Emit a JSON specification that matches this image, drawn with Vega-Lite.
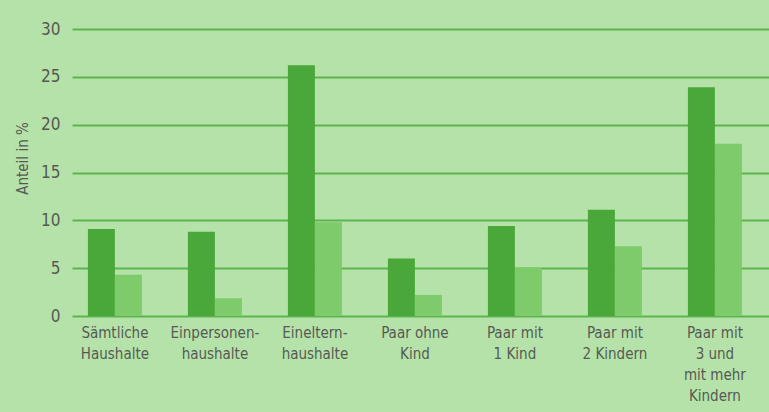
{
  "$schema": "https://vega.github.io/schema/vega-lite/v6.json",
  "autosize": {"type": "none"},
  "padding": {"left": 72, "top": 29, "right": 0, "bottom": 96},
  "width": 697,
  "height": 287,
  "background": "#b5e2a8",
  "config": {
    "view": {"stroke": null, "fill": "#b5e2a8"},
    "font": "DejaVu Sans Condensed, Lato, sans-serif"
  },
  "data": {
    "values": [
      {"typ": "Sämtliche|Haushalte", "serie": "A", "wert": 9.1},
      {"typ": "Sämtliche|Haushalte", "serie": "B", "wert": 4.3},
      {"typ": "Einpersonen-|haushalte", "serie": "A", "wert": 8.8},
      {"typ": "Einpersonen-|haushalte", "serie": "B", "wert": 1.85},
      {"typ": "Eineltern-|haushalte", "serie": "A", "wert": 26.2},
      {"typ": "Eineltern-|haushalte", "serie": "B", "wert": 9.8},
      {"typ": "Paar ohne|Kind", "serie": "A", "wert": 6.0},
      {"typ": "Paar ohne|Kind", "serie": "B", "wert": 2.2},
      {"typ": "Paar mit|1 Kind", "serie": "A", "wert": 9.4},
      {"typ": "Paar mit|1 Kind", "serie": "B", "wert": 5.05},
      {"typ": "Paar mit|2 Kindern", "serie": "A", "wert": 11.1},
      {"typ": "Paar mit|2 Kindern", "serie": "B", "wert": 7.3},
      {"typ": "Paar mit|3 und|mit mehr|Kindern", "serie": "A", "wert": 23.9},
      {"typ": "Paar mit|3 und|mit mehr|Kindern", "serie": "B", "wert": 18.0}
    ]
  },
  "mark": {"type": "bar"},
  "encoding": {
    "x": {
      "field": "typ",
      "type": "nominal",
      "sort": null,
      "scale": {"paddingInner": 0.46, "paddingOuter": 0.215, "align": 0.37},
      "axis": {
        "title": null,
        "labelAngle": 0,
        "labelExpr": "split(datum.label, '|')",
        "labelFontSize": 15,
        "labelColor": "#555a55",
        "labelLineHeight": 21,
        "labelPadding": 9,
        "ticks": false,
        "domain": false,
        "labelLimit": 200
      }
    },
    "xOffset": {"field": "serie", "type": "nominal", "scale": {"paddingInner": 0, "paddingOuter": 0}},
    "y": {
      "field": "wert",
      "type": "quantitative",
      "scale": {"domain": [0, 30], "nice": false},
      "axis": {
        "title": "Anteil in %",
        "titleFontSize": 15,
        "titleFontWeight": "normal",
        "titleColor": "#555a55",
        "titlePadding": 10,
        "titleY": 129,
        "values": [0, 5, 10, 15, 20, 25, 30],
        "labelFontSize": 17,
        "labelColor": "#555a55",
        "labelPadding": 12,
        "ticks": false,
        "domain": false,
        "grid": true,
        "gridColor": "#5cb44c",
        "gridWidth": 2,
        "gridOpacity": 1
      }
    },
    "color": {
      "field": "serie",
      "type": "nominal",
      "scale": {"domain": ["A", "B"], "range": ["#4aa83b", "#7dcb6b"]},
      "legend": null
    }
  }
}
